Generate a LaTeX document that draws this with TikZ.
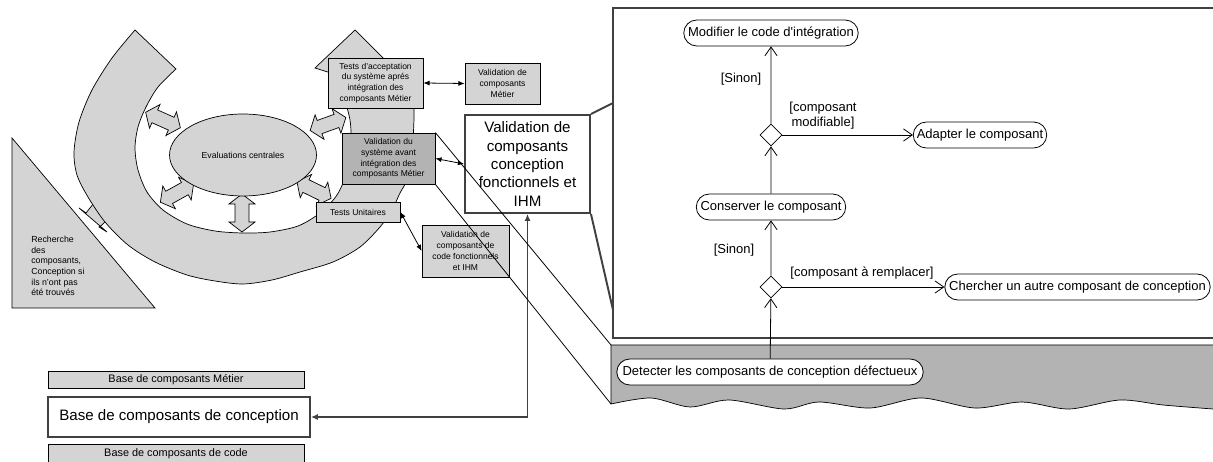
\documentclass[tikz,border=0pt]{standalone}
\usepackage{fontspec}
\setmainfont{Liberation Sans}
\usetikzlibrary{shapes.geometric,shapes.misc,arrows.meta}
\definecolor{lightfill}{HTML}{D4D4D4}
\definecolor{darkfill}{HTML}{B3B3B3}
\definecolor{edgegray}{HTML}{404040}
\tikzset{
  smallbox/.style={draw, fill=lightfill, align=center, inner sep=0pt, line width=0.45pt,
    font=\fontsize{4.85}{6.1}\selectfont},
  basebox/.style={draw, fill=lightfill, inner sep=0pt, line width=0.45pt,
    font=\fontsize{6.2}{7}\selectfont},
  activ/.style={draw, rounded rectangle, fill=white, minimum height=0.52cm, inner sep=1pt,
    line width=0.45pt, font=\fontsize{7.4}{8.5}\selectfont},
  decis/.style={draw, diamond, fill=white, minimum width=0.44cm, minimum height=0.44cm,
    inner sep=0pt, line width=0.45pt},
  flow/.style={-{Straight Barb[length=5pt,width=7pt]}, line width=0.45pt},
  link/.style={{Latex[length=3.5pt,width=2.8pt]}-{Latex[length=3.5pt,width=2.8pt]}, line width=0.45pt},
  guard/.style={font=\fontsize{7.4}{8.5}\selectfont, inner sep=0pt, align=center},
}
\begin{document}
\begin{tikzpicture}[x=0.02cm,y=-0.02cm]
  \useasboundingbox (0,0) rectangle (1213,462);
  % cycle on the left
  \fill[white] (0,0) rectangle (1213,462);
  \draw[fill=lightfill] (12,138) -- (12,308) -- (155,308) -- cycle;
  \node[anchor=west, align=left, inner sep=0pt, font=\fontsize{5}{6.1}\selectfont] (recherche) at (31,266)
    {Recherche\\des\\composants,\\Conception si\\ils n’ont pas\\été trouvés};
  \draw[fill=lightfill] (98,198) -- (86,213) -- (79,208) -- (107,232) -- (99,227) -- (102,225)
    -- (112,214) -- cycle;
  \draw[fill=lightfill] plot[smooth] coordinates {(135,30) (112,58) (92,90) (79,122) (74,152)
      (77,175) (88,197) (105,222) (128,245) (155,262) (187,275) (215,281) (243,284) (272,280)
      (300,272) (333,262) (360,247) (380,227) (392,210) (400,193) (407,180) (411,160) (413,140)
      (414,118) (414,100)}
    -- (421,96) -- (355,30) -- (315,68) --
    plot[smooth] coordinates {(334,74) (343,95) (350,120) (351,145) (347,172) (337,195) (320,213)
      (298,226) (270,232) (243,233) (215,231) (187,224) (163,210) (147,192) (138,170) (135,148)
      (138,127) (146,107) (158,87) (176,69)} -- cycle;
  \foreach \px/\py/\ang in {163/120/156, 328/124/20, 177/193/29, 242/213/90, 314/190/-26}
    \draw[fill=lightfill, shift={(\px,\py)}, rotate=\ang]
      (-19,0) -- (-9,-13) -- (-9,-7) -- (9,-7) -- (9,-13) -- (19,0) -- (9,13) -- (9,7)
      -- (-9,7) -- (-9,13) -- cycle;
  \node[draw, ellipse, fill=lightfill, minimum width=2.94cm, minimum height=1.64cm,
    font=\fontsize{4.95}{6}\selectfont] (eval) at (243,155) {Evaluations centrales};
  \node[smallbox, minimum width=1.9cm, minimum height=1cm] (accept) at (375.5,83)
    {Tests d’acceptation\\du système aprés\\intégration des\\composants Métier};
  \node[smallbox, minimum width=1.5cm, minimum height=0.82cm] (valmetier) at (502.5,83.5)
    {Validation de\\composants\\Métier};
  \node[smallbox, fill=darkfill, minimum width=1.86cm, minimum height=1.02cm] (valsys) at (388.5,158.5)
    {Validation du\\système avant\\intégration des\\composants Métier};
  \node[smallbox, minimum width=1.68cm, minimum height=0.4cm] (unit) at (358,212) {Tests Unitaires};
  \node[smallbox, minimum width=1.74cm, minimum height=1.04cm] (valcode) at (465.5,251)
    {Validation de\\composants de\\code fonctionnels\\et IHM};
  \node[draw=edgegray, line width=1.1pt, fill=white, align=center, inner sep=0pt,
    minimum width=2.5cm, minimum height=1.96cm, font=\fontsize{8.6}{10.5}\selectfont] (valconc) at (527.5,164)
    {Validation de\\composants\\conception\\fonctionnels et\\IHM};
  \draw[link] (accept.east) -- (valmetier.west);
  \draw[link] (valsys.east) -- (valconc.west);
  \draw[link] (unit.east) -- (valcode.west);
  % bases
  \node[basebox, minimum width=5.12cm, minimum height=0.34cm] (basemetier) at (176,379.5)
    {Base de composants Métier};
  \node[basebox, draw=edgegray, line width=1.1pt, fill=white, minimum width=5.24cm, minimum height=0.8cm,
    font=\fontsize{8.6}{10}\selectfont] (baseconc) at (179,417) {Base de composants de conception};
  \node[basebox, minimum width=5.12cm, minimum height=0.4cm] (basecode) at (176,454)
    {Base de composants de code};
  \draw[edgegray, line width=1.1pt, {Latex[length=4pt,width=3.5pt]}-{Latex[length=4pt,width=3.5pt]}]
    (valconc.south) |- (baseconc.east);
  % zoom on the right
  \draw[edgegray, line width=1.1pt, fill=white] (613,8) rectangle (1225,338);
  \draw[fill=darkfill] (611,345) -- (1225,345) -- (1225,406) --
    plot[smooth] coordinates {(1213,409) (1163,405) (1120,400) (1069,409) (1022,402) (975,408)
      (921,398) (870,408) (819,402) (784,409) (729,400) (690,407) (651,398) (611,404)} -- cycle;
  \coordinate (pantop) at (613,103);
  \coordinate (panbot) at (613,310);
  \coordinate (bandtop) at (611,345);
  \coordinate (bandbot) at (611,404);
  \draw[edgegray, line width=1.1pt] (valconc.north east) -- (pantop);
  \draw[edgegray, line width=1.1pt] (valconc.south east) -- (panbot);
  \draw[line width=0.45pt] (valsys.north east) -- (bandtop);
  \draw[line width=0.45pt] (valsys.south east) -- (bandbot);
  \node[activ, minimum width=3.56cm] (modif) at (771,33) {Modifier le code d\textquotesingle intégration};
  \node[decis] (dec1) at (771,135) {};
  \node[activ, minimum width=2.74cm] (adapt) at (980,135) {Adapter le composant};
  \node[activ, minimum width=3.06cm] (conserv) at (771,207) {Conserver le composant};
  \node[decis] (dec2) at (771,287) {};
  \node[activ, minimum width=5.38cm] (cherch) at (1077.5,287) {Chercher un autre composant de conception};
  \node[activ, minimum width=6.2cm] (detect) at (770,372) {Detecter les composants de conception défectueux};
  \draw[flow] (dec1) -- (modif);
  \draw[flow] (dec1) -- (adapt);
  \draw[flow] (conserv) -- (dec1);
  \draw[flow] (dec2) -- (conserv);
  \draw[flow] (dec2) -- (cherch);
  \draw[flow] (detect) -- (dec2);
  \node[guard] (sinon1) at (741,79) {[Sinon]};
  \node[guard] (garde1) at (823,116) {[composant\\modifiable]};
  \node[guard] (sinon2) at (734,250) {[Sinon]};
  \node[guard] (garde2) at (862,273) {[composant à remplacer]};
\end{tikzpicture}
\end{document}
